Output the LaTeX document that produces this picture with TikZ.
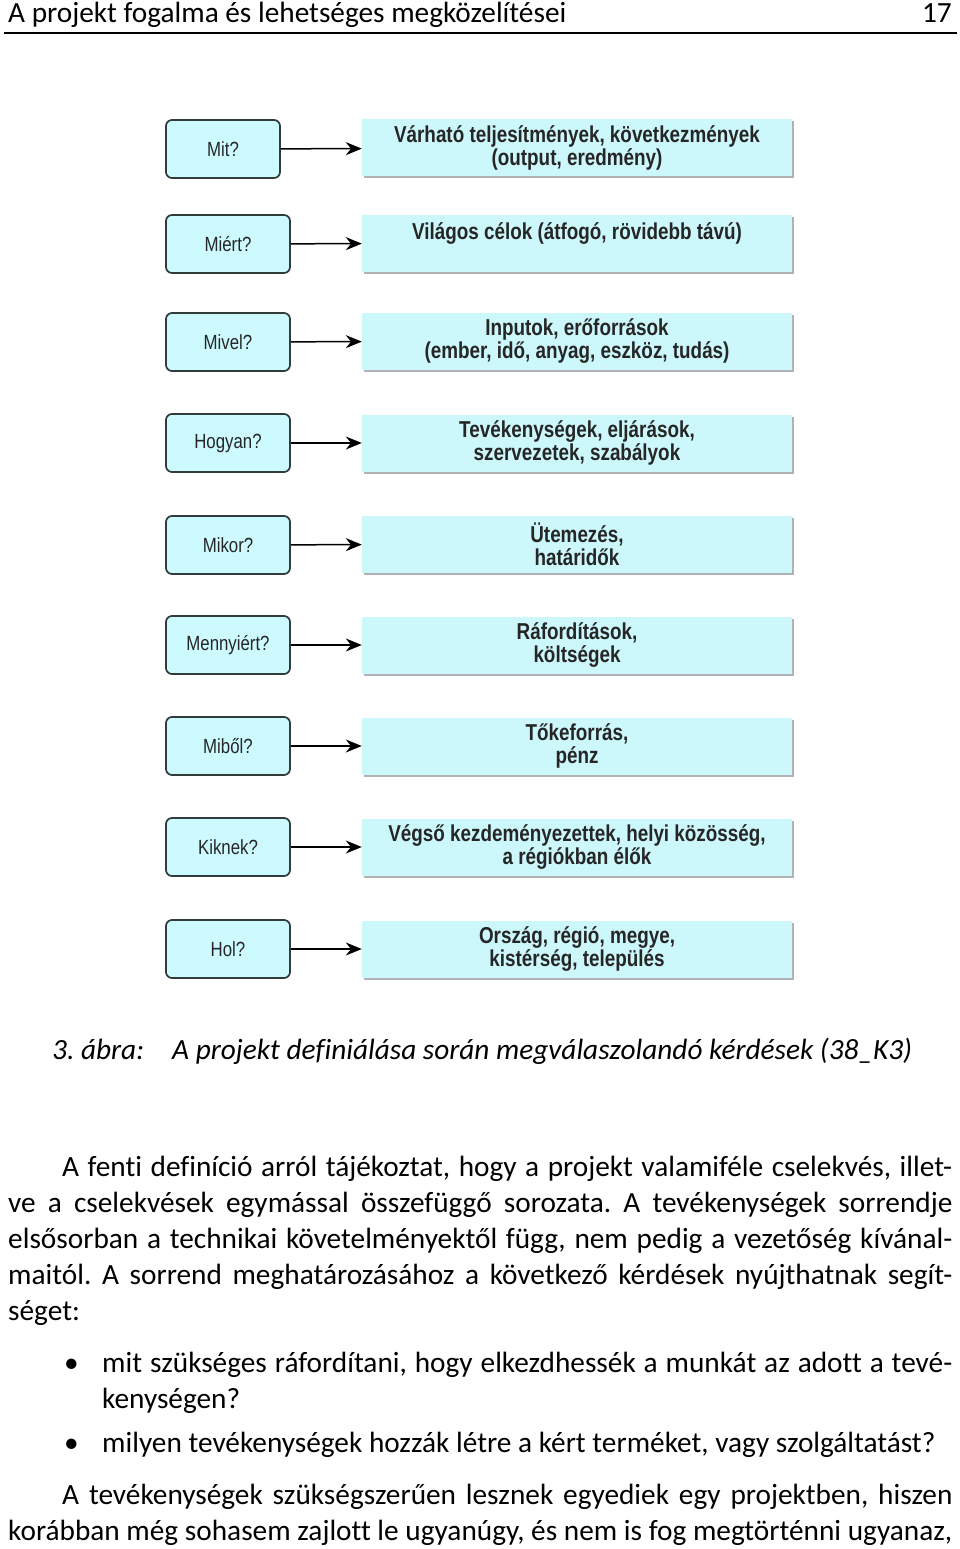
\documentclass[tikz,border=0pt]{standalone}
\usepackage{fontspec}
\setmainfont[Ligatures=NoCommon]{Carlito}
\newfontfamily\narrowfont[FakeStretch=0.82]{Liberation Sans}
\usetikzlibrary{arrows.meta,shadows}
\definecolor{qfill}{RGB}{204,250,255}
\definecolor{afill}{RGB}{204,247,251}
\definecolor{qdraw}{RGB}{48,60,60}
\newcommand{\jline}[2]{\makebox[#1pt][s]{#2}}
\frenchspacing

\begin{document}
\begin{tikzpicture}[x=1pt, y=-1pt,
		question/.style={draw=qdraw, line width=1.7pt, fill=qfill, rounded corners=6pt,
			minimum width=124pt, minimum height=58pt, inner sep=0pt,
			font=\narrowfont\fontsize{20.5}{24}\selectfont, text=black!85},
		answer/.style={fill=afill, minimum width=430pt, minimum height=57pt, inner sep=0pt,
			align=center, font=\narrowfont\bfseries\fontsize{23}{23}\selectfont, text=black!85,
			drop shadow={shadow xshift=2pt, shadow yshift=-2pt, fill=black!30, opacity=1}},
		link/.style={-{Stealth[length=16pt, width=13pt]}, line width=1.5pt},
		body/.style={anchor=base west, inner sep=0pt, font=\fontsize{29.3}{36}\selectfont}]
			\useasboundingbox (0, 0) rectangle (960, 1549);
			% header
			\node[body] (HEAD) at (8, 23) {A projekt fogalma és lehetséges megközelítései};
			\node[body, anchor=base east] (PAGE) at (952, 23) {17};
			\coordinate (RL) at (4, 33);
			\coordinate (RR) at (957, 33);
			\draw[line width=1.3pt] (RL) -- (RR);
			% questions
			\node[question, minimum width=114pt] (Q1) at (223, 149) {Mit?};
			\node[question] (Q2) at (228, 244) {Miért?};
			\node[question] (Q3) at (228, 342) {Mivel?};
			\node[question] (Q4) at (228, 443) {Hogyan?};
			\node[question] (Q5) at (228, 545) {Mikor?};
			\node[question] (Q6) at (228, 645) {Mennyiért?};
			\node[question] (Q7) at (228, 746) {Miből?};
			\node[question] (Q8) at (228, 847) {Kiknek?};
			\node[question] (Q9) at (228, 949) {Hol?};
			% answers
			\node[answer] (A1) at (577, 148) {Várható teljesítmények, következmények\\(output, eredmény)};
			\node[answer] (A2) at (577, 243) {Világos célok (átfogó, rövidebb távú)\\\mbox{}};
			\node[answer] (A3) at (577, 341) {Inputok, erőforrások\\(ember, idő, anyag, eszköz, tudás)};
			\node[answer] (A4) at (577, 443) {Tevékenységek, eljárások,\\szervezetek, szabályok};
			\node[answer] (A5) at (577, 544) {Ütemezés,\\határidők};
			\node[answer] (A6) at (577, 645) {Ráfordítások,\\költségek};
			\node[answer] (A7) at (577, 746) {Tőkeforrás,\\pénz};
			\node[answer] (A8) at (577, 847) {Végső kezdeményezettek, helyi közösség,\\a régiókban élők};
			\node[answer] (A9) at (577, 949) {Ország, régió, megye,\\kistérség, település};
			\draw[link] (Q1) -- (A1);
			\draw[link] (Q2) -- (A2);
			\draw[link] (Q3) -- (A3);
			\draw[link] (Q4) -- (A4);
			\draw[link] (Q5) -- (A5);
			\draw[link] (Q6) -- (A6);
			\draw[link] (Q7) -- (A7);
			\draw[link] (Q8) -- (A8);
			\draw[link] (Q9) -- (A9);
			% caption
			\node[body, font=\itshape\fontsize{29.3}{36}\selectfont] (FIG) at (52, 1059) {3. ábra:};
			\node[body, font=\itshape\fontsize{29.3}{36}\selectfont] (CAP) at (172, 1059) {A projekt definiálása során megválaszolandó kérdések (38\_K3)};
			% text
			\node[body] (L1) at (62, 1176) {\jline{890}{A fenti definíció arról tájékoztat, hogy a projekt valamiféle cselekvés, illet-}};
			\node[body] (L2) at (8, 1212) {\jline{944}{ve a cselekvések egymással összefüggő sorozata. A tevékenységek sorrendje}};
			\node[body] (L3) at (8, 1248) {\jline{944}{elsősorban a technikai követelményektől függ, nem pedig a vezetőség kívánal-}};
			\node[body] (L4) at (8, 1284) {\jline{944}{maitól. A sorrend meghatározásához a következő kérdések nyújthatnak segít-}};
			\node[body] (L5) at (8, 1320) {séget:};
			\node[body] (B1) at (64, 1372) {•};
			\node[body] (L6) at (102, 1372) {\jline{850}{mit szükséges ráfordítani, hogy elkezdhessék a munkát az adott a tevé-}};
			\node[body] (L7) at (102, 1408) {kenységen?};
			\node[body] (B2) at (64, 1452) {•};
			\node[body] (L8) at (102, 1452) {milyen tevékenységek hozzák létre a kért terméket, vagy szolgáltatást?};
			\node[body] (L9) at (62, 1504) {\jline{890}{A tevékenységek szükségszerűen lesznek egyediek egy projektben, hiszen}};
			\node[body] (L10) at (8, 1540) {\jline{944}{korábban még sohasem zajlott le ugyanúgy, és nem is fog megtörténni ugyanaz,}};
		\end{tikzpicture}
\end{document}
